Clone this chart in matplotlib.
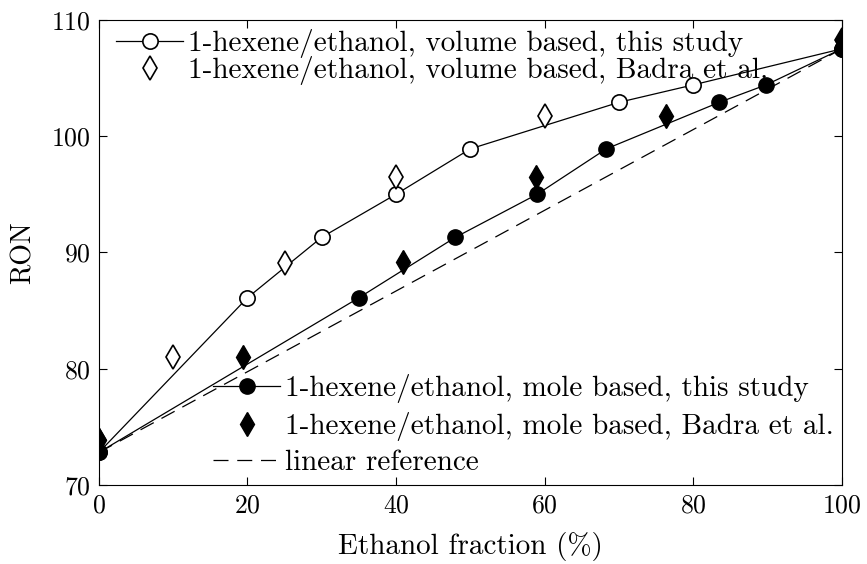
import matplotlib
matplotlib.use('Agg')
import matplotlib.pyplot as plt

plt.rcParams['font.family'] = 'serif'
plt.rcParams['font.serif'] = ['cmr10']
plt.rcParams['mathtext.fontset'] = 'cm'
plt.rcParams['axes.formatter.use_mathtext'] = True

# volume based, this study
x_vol = [0, 20, 30, 40, 50, 70, 80, 100]
y_vol = [72.8, 86.1, 91.3, 95.0, 98.9, 102.9, 104.4, 107.5]
# volume based, Badra et al.
x_vol_b = [0, 10, 25, 40, 60, 100]
y_vol_b = [73.9, 81.0, 89.1, 96.5, 101.7, 108.3]
# mole based, this study
x_mol = [0, 35, 48, 59, 68.3, 83.5, 89.8, 100]
y_mol = [72.8, 86.1, 91.3, 95.0, 98.9, 102.9, 104.4, 107.5]
# mole based, Badra et al.
x_mol_b = [0, 19.4, 41, 58.8, 76.3, 100]
y_mol_b = [73.9, 81.0, 89.2, 96.5, 101.7, 108.3]
# linear reference
x_lin = [0, 100]
y_lin = [72.8, 107.5]

fig = plt.figure(figsize=(8.67, 5.64), dpi=100)
ax = fig.add_axes([0.114, 0.140, 0.857, 0.825])

l1, = ax.plot(x_vol, y_vol, '-o', color='black', lw=0.9, mfc='white', mec='black', mew=1.2, ms=11,
              label='1-hexene/ethanol, volume based, this study')
l2, = ax.plot(x_vol_b, y_vol_b, 'd', color='black', mfc='white', mec='black', mew=1.2, ms=12, ls='none',
              label='1-hexene/ethanol, volume based, Badra et al.')
l5, = ax.plot(x_lin, y_lin, '--', color='black', lw=0.9, dashes=(12, 7), label='linear reference')
l3, = ax.plot(x_mol, y_mol, '-o', color='black', lw=0.9, mfc='black', ms=11,
              label='1-hexene/ethanol, mole based, this study')
l4, = ax.plot(x_mol_b, y_mol_b, 'd', color='black', mfc='black', ms=12, ls='none',
              label='1-hexene/ethanol, mole based, Badra et al.')

ax.set_xlim(0, 100)
ax.set_ylim(70, 110)
ax.set_xticks([0, 20, 40, 60, 80, 100])
ax.set_yticks([70, 80, 90, 100, 110])
ax.tick_params(direction='in', top=True, right=True, length=6, width=0.8, labelsize=18.5, pad=6)
for s in ax.spines.values():
    s.set_linewidth(0.8)
ax.set_xlabel('Ethanol fraction (%)', fontsize=21, labelpad=11)
ax.set_ylabel('RON', fontsize=20, labelpad=10)

leg1 = ax.legend(handles=[l1, l2], loc='upper left', bbox_to_anchor=(0.0, 1.018), frameon=False,
                 fontsize=21, handlelength=2.3, handletextpad=0.15, labelspacing=-0.07, borderaxespad=0.2)
ax.add_artist(leg1)
ax.legend(handles=[l3, l4, l5], loc='lower right', bbox_to_anchor=(1.012, -0.018), frameon=False,
          fontsize=21, handlelength=2.3, handletextpad=0.15, labelspacing=0.3, borderaxespad=0.2)

fig.savefig('out.png', dpi=100)
